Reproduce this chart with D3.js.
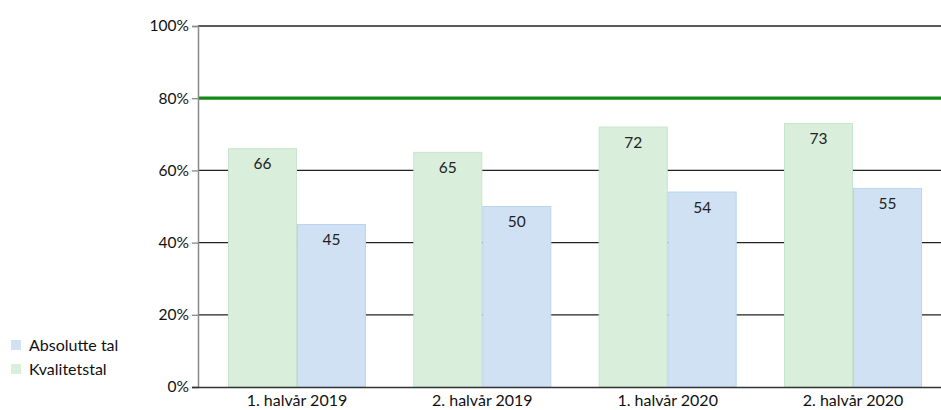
<!DOCTYPE html>
<html>
<head>
<meta charset="utf-8">
<script src="https://cdn.jsdelivr.net/npm/d3@7"></script>
<style>
  html, body { margin: 0; padding: 0; background: #fff; }
  svg { display: block; font-family: Lato, "Open Sans", sans-serif; }
</style>
</head>
<body>
<svg id="chart" width="941" height="410"></svg>
<script>
// Periods on the x axis
const categories = ["1. halvår 2019", "2. halvår 2019", "1. halvår 2020", "2. halvår 2020"];
// Series (percent)
const kvalitetstal = [66, 65, 72, 73];
const absolutteTal = [45, 50, 54, 55];
const seriesNames = ["Kvalitetstal", "Absolutte tal"];
// Target line and y ticks
const target = 80;
const yTicks = [0, 20, 40, 60, 80, 100];

const W = 941, H = 410;
const FONT = 16;
const svg = d3.select("#chart");

const y = d3.scaleLinear().domain([0, 100]).range([387, 26]);
const x0 = d3.scaleBand().domain(categories).range([204.3, 945.7]).paddingInner(0).paddingOuter(0);
const x1 = d3.scaleBand().domain(seriesNames).range([0, 138]);
const groupOffset = (x0.bandwidth() - 138) / 2;

const fills = { "Kvalitetstal": "#d9eedb", "Absolutte tal": "#cfe1f3" };
const strokes = { "Kvalitetstal": "#c6e5ca", "Absolutte tal": "#b9d4ef" };

const axisLeftX = 198;

// Horizontal gridlines (drawn beneath the bars)
svg.append("g")
  .selectAll("line")
  .data(yTicks.filter(t => t !== 0 && t !== target))
  .join("line")
  .attr("x1", axisLeftX).attr("x2", W)
  .attr("y1", d => y(d)).attr("y2", d => y(d))
  .attr("stroke", "#222").attr("stroke-width", 1.3);

// Bars
const rows = categories.map((c, i) => ({ cat: c, vals: [
  { name: "Kvalitetstal", v: kvalitetstal[i] },
  { name: "Absolutte tal", v: absolutteTal[i] }
]}));

const groups = svg.append("g")
  .selectAll("g")
  .data(rows)
  .join("g")
  .attr("transform", d => `translate(${x0(d.cat) + groupOffset},0)`);

groups.selectAll("rect")
  .data(d => d.vals)
  .join("rect")
  .attr("x", d => x1(d.name) + 0.5)
  .attr("y", d => y(d.v))
  .attr("width", x1.bandwidth() - 1)
  .attr("height", d => y(0) - y(d.v))
  .attr("fill", d => fills[d.name])
  .attr("stroke", d => strokes[d.name])
  .attr("stroke-width", 1);

groups.selectAll("text")
  .data(d => d.vals)
  .join("text")
  .attr("x", d => x1(d.name) + x1.bandwidth() / 2)
  .attr("y", d => y(d.v) + 20.5)
  .attr("text-anchor", "middle")
  .attr("font-size", FONT - 0.5)
  .attr("fill", "#222")
  .text(d => d.v);

// Target line at 80%
svg.append("line")
  .attr("x1", axisLeftX).attr("x2", W)
  .attr("y1", y(target)).attr("y2", y(target))
  .attr("stroke", "#138a13").attr("stroke-width", 3.2);

// Y axis
const yAxis = d3.axisLeft(y).tickValues(yTicks).tickFormat(d => d + "%").tickSize(6).tickPadding(3);
const gy = svg.append("g").attr("transform", `translate(${axisLeftX},0)`).call(yAxis);
gy.select(".domain").attr("stroke", "#888").attr("stroke-width", 1.5);
gy.selectAll(".tick line").attr("stroke", "#888").attr("stroke-width", 1.3);
gy.selectAll(".tick text").attr("font-size", FONT - 0.5).attr("fill", "#111").attr("font-family", "Lato, 'Open Sans', sans-serif");

// X axis baseline and labels
svg.append("line")
  .attr("x1", 192).attr("x2", W)
  .attr("y1", y(0) + 0.5).attr("y2", y(0) + 0.5)
  .attr("stroke", "#333").attr("stroke-width", 1.6);

svg.append("g")
  .selectAll("text")
  .data(categories)
  .join("text")
  .attr("x", d => x0(d) + x0.bandwidth() / 2)
  .attr("y", 406)
  .attr("text-anchor", "middle")
  .attr("font-size", FONT)
  .attr("fill", "#111")
  .text(d => d);

// Legend
const legendItems = [
  { name: "Absolutte tal", y: 345 },
  { name: "Kvalitetstal", y: 369 }
];
const lg = svg.append("g");
lg.selectAll("rect")
  .data(legendItems)
  .join("rect")
  .attr("x", 11).attr("y", d => d.y - 5)
  .attr("width", 10).attr("height", 10)
  .attr("fill", d => fills[d.name]);
lg.selectAll("text")
  .data(legendItems)
  .join("text")
  .attr("x", 29).attr("y", d => d.y + 5.5)
  .attr("font-size", FONT)
  .attr("fill", "#111")
  .text(d => d.name);
</script>
</body>
</html>
